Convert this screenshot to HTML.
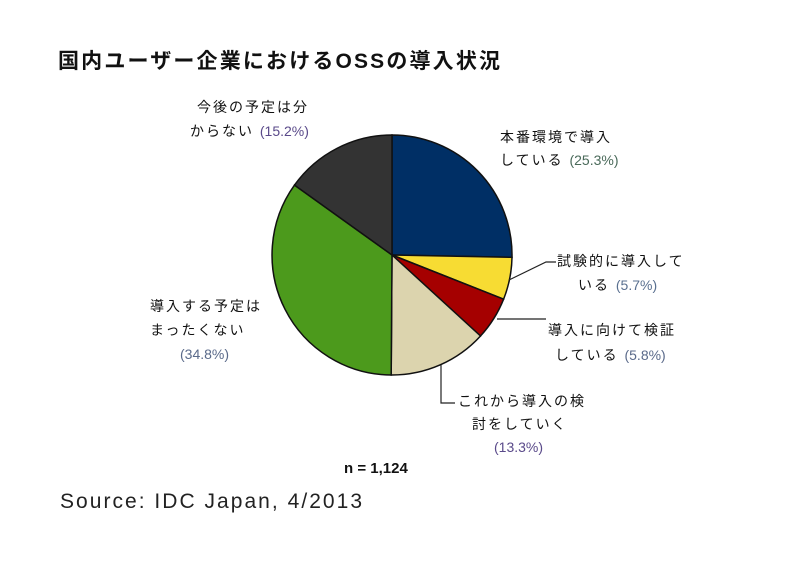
<!DOCTYPE html>
<html><head><meta charset="utf-8"><style>
body{margin:0;background:#fff;width:800px;height:571px;overflow:hidden}
</style></head><body>
<svg width="800" height="571" xmlns="http://www.w3.org/2000/svg" font-family="'Liberation Sans','Noto Sans CJK JP',sans-serif">
<text x="58" y="68" font-size="21" font-weight="bold" fill="#111" textLength="442" lengthAdjust="spacing">国内ユーザー企業におけるOSSの導入状況</text>
<g stroke="#111" stroke-width="1.5">
<path d="M392,255 L392,135 A120,120 0 0 1 512,257.3 Z" fill="#002f65"/>
<path d="M392,255 L512,257.3 A120,120 0 0 1 503.6,299.2 Z" fill="#f7dc33"/>
<path d="M392,255 L503.6,299.2 A120,120 0 0 1 480.5,336 Z" fill="#a50000"/>
<path d="M392,255 L480.5,336 A120,120 0 0 1 391.2,375 Z" fill="#dcd4ae"/>
<path d="M392,255 L391.2,375 A120,120 0 0 1 294.5,185.1 Z" fill="#4c9a1c"/>
<path d="M392,255 L294.5,185.1 A120,120 0 0 1 392,135 Z" fill="#333333"/>
</g>
<g stroke="#222" stroke-width="1.2" fill="none">
<polyline points="509,280 546,262 556,262"/>
<polyline points="497,319 546,319"/>
<polyline points="441,365 441,403 455,403"/>
</g>
<g font-size="14" fill="#111" letter-spacing="2">
<text x="197" y="112">今後の予定は分</text>
<text x="190" y="136">からない <tspan fill="#5a4a8a" letter-spacing="0">(15.2%)</tspan></text>
<text x="500" y="142">本番環境で導入</text>
<text x="500" y="165">している <tspan fill="#4a6a5a" letter-spacing="0">(25.3%)</tspan></text>
<text x="557" y="266">試験的に導入して</text>
<text x="578" y="290">いる <tspan fill="#5a7090" letter-spacing="0">(5.7%)</tspan></text>
<text x="548" y="335">導入に向けて検証</text>
<text x="555" y="360">している <tspan fill="#5a6a8a" letter-spacing="0">(5.8%)</tspan></text>
<text x="458" y="406">これから導入の検</text>
<text x="472" y="429">討をしていく</text>
<text x="494" y="452" fill="#5a4a8a" letter-spacing="0">(13.3%)</text>
<text x="150" y="311">導入する予定は</text>
<text x="150" y="335">まったくない</text>
<text x="180" y="359" fill="#5a6a8a" letter-spacing="0">(34.8%)</text>
</g>
<text x="344" y="473" font-size="15" font-weight="bold" fill="#111">n = 1,124</text>
<text x="60" y="508" font-size="21" fill="#222" textLength="302" lengthAdjust="spacing">Source: IDC Japan, 4/2013</text>
</svg>
</body></html>
